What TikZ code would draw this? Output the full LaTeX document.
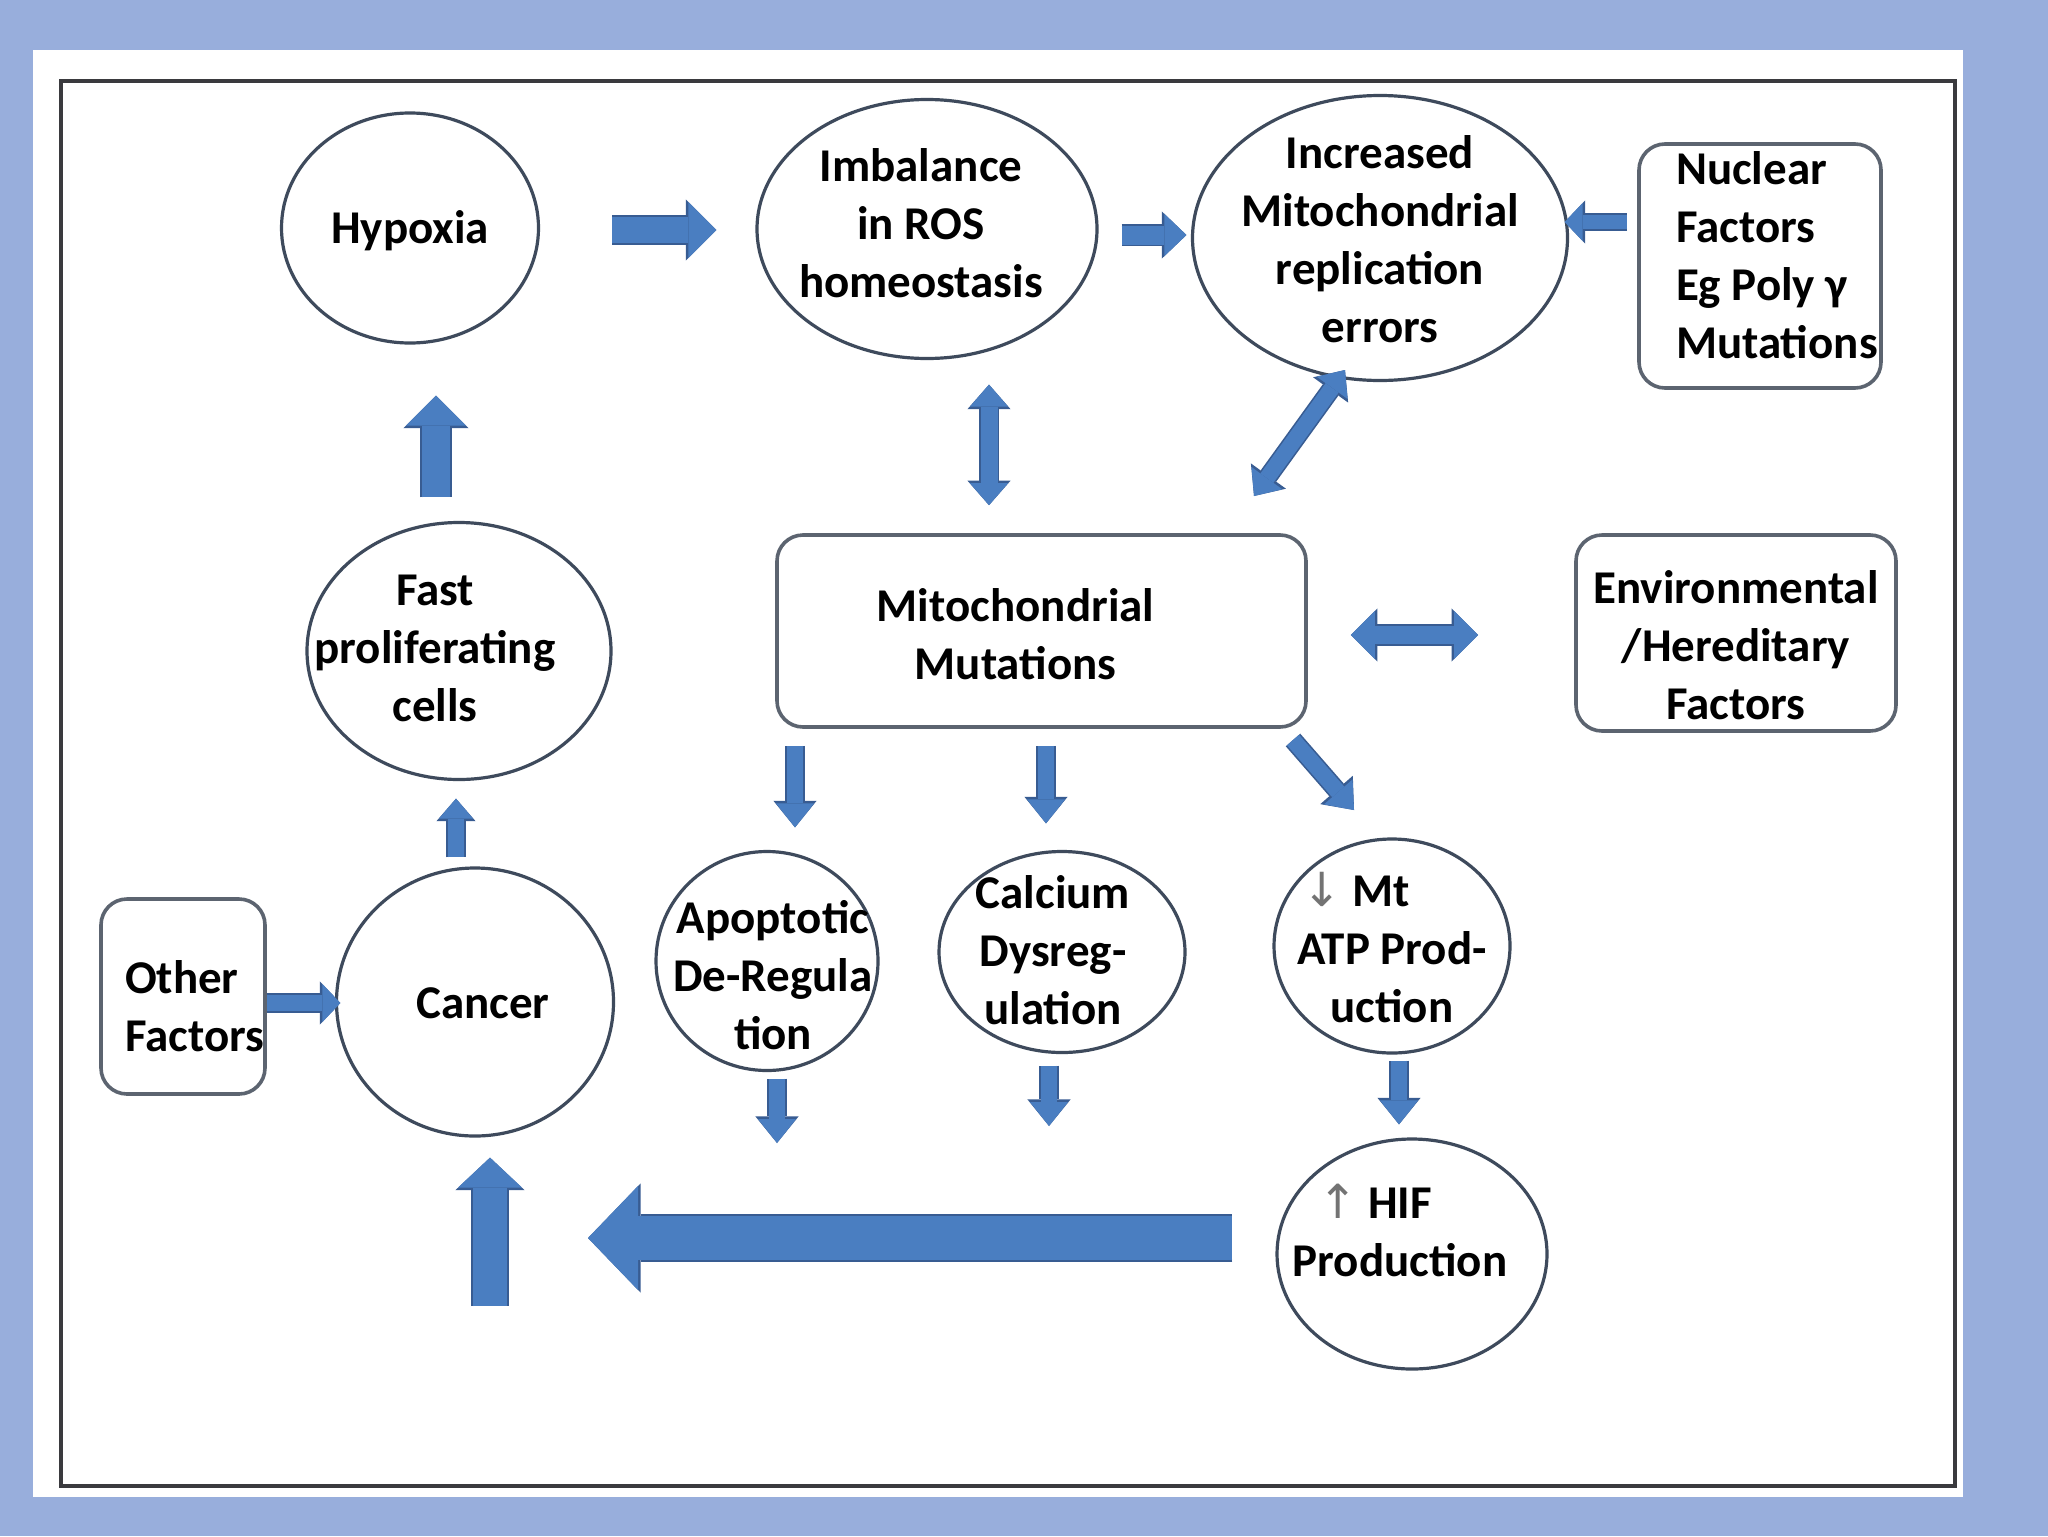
\documentclass[tikz,border=0pt]{standalone}
\usepackage{fontspec}
\setmainfont{Carlito}
\newfontfamily\symf{DejaVu Sans}
\usetikzlibrary{shapes.geometric,arrows.meta}
\definecolor{bgblue}{RGB}{152,174,220}
\definecolor{ablue}{RGB}{74,126,193}
\definecolor{aedge}{RGB}{56,92,146}
\definecolor{eline}{RGB}{62,74,92}
\definecolor{bline}{RGB}{92,100,112}
\definecolor{fline}{RGB}{58,58,62}
\newcommand\fnt{\fontsize{23.5pt}{29pt}\selectfont\bfseries}
\newcommand\txt[3]{\smash{\kern#1\makebox[0pt]{\raisebox{#2}{\begin{tabular}{@{}c@{}}#3\end{tabular}}}\kern-#1}}
\newcommand\txtl[3]{\smash{\kern#1\makebox[0pt][l]{\raisebox{#2}{\begin{tabular}{@{}l@{}}#3\end{tabular}}}\kern-#1}}
\newcommand\dnar{{\symf\mdseries\textcolor{black!55}{↓}}}
\newcommand\upar{{\symf\mdseries\textcolor{black!55}{↑}}}
\tikzset{
  ell/.style={ellipse, draw=eline, line width=1.6pt, fill=white, inner sep=0pt, font=\fnt},
  rbox/.style={rectangle, rounded corners=13pt, draw=bline, line width=1.8pt, fill=white, inner sep=0pt, font=\fnt},
  sarr/.code n args={3}{%
    \pgfmathsetlengthmacro\oS{#1+1.6pt}\pgfmathsetlengthmacro\oH{#2+2.6pt}\pgfmathsetlengthmacro\oL{#3+1.3pt}%
    \tikzset{draw=ablue, line width=#1, -{Triangle[length=#3,width=#2,line width=0pt]},
      preaction={draw=aedge, line width=\oS, -{Triangle[length=\oL,width=\oH,line width=0pt]}}}},
  darr/.code n args={3}{%
    \pgfmathsetlengthmacro\oS{#1+1.6pt}\pgfmathsetlengthmacro\oH{#2+2.6pt}\pgfmathsetlengthmacro\oL{#3+1.3pt}%
    \tikzset{draw=ablue, line width=#1, {Triangle[length=#3,width=#2,line width=0pt]}-{Triangle[length=#3,width=#2,line width=0pt]},
      preaction={draw=aedge, line width=\oS, {Triangle[length=\oL,width=\oH,line width=0pt]}-{Triangle[length=\oL,width=\oH,line width=0pt]}}}},
}
\begin{document}
\begin{tikzpicture}[x=0.5pt,y=-0.5pt]
\useasboundingbox (0,0) rectangle (2048,1536);
\fill[bgblue] (0,0) rectangle (2048,1536);
\fill[white] (33,50) rectangle (1963,1497);
\draw[fline, line width=1.75pt] (61,81) rectangle (1955,1486);

% nodes
\node[ell, minimum width=128.5pt, minimum height=115pt] (hyp) at (410,228) {\txt{0pt}{-8.4pt}{Hypoxia}};
\node[ell, minimum width=170pt, minimum height=129.5pt] (ros) at (927,229) {\txt{-3pt}{-5.6pt}{Imbalance\\in ROS\\homeostasis}};
\node[ell, minimum width=187.5pt, minimum height=142.5pt] (inc) at (1380,238) {\txt{0pt}{-9.2pt}{Increased\\Mitochondrial\\replication\\errors}};
\node[rbox, minimum width=121pt, minimum height=122pt] (nuc) at (1760,266) {\txtl{-42pt}{-3.2pt}{Nuclear\\Factors\\Eg Poly γ\\Mutations}};
\node[rbox, minimum width=264.5pt, minimum height=96pt] (mut) at (1041.5,631) {\txt{-13pt}{-10pt}{Mitochondrial\\Mutations}};
\node[rbox, minimum width=160pt, minimum height=98pt] (env) at (1736,633) {\txt{0pt}{-14.5pt}{Environmental\\/Hereditary\\Factors}};
\node[ell, minimum width=152pt, minimum height=128.5pt] (fast) at (459,651) {\txt{-12pt}{-6.5pt}{Fast\\proliferating\\cells}};
\node[ell, minimum width=138.5pt, minimum height=134pt] (can) at (475,1002) {\txt{4pt}{-8.5pt}{Cancer}};
\node[rbox, minimum width=82pt, minimum height=97.5pt] (oth) at (183,996.5) {\txtl{-29pt}{-13.4pt}{Other\\Factors}};
\node[ell, minimum width=111pt, minimum height=109.5pt] (apo) at (767,961) {\txt{3pt}{-15.9pt}{Apoptotic\\De-Regula\\tion}};
\node[ell, minimum width=123pt, minimum height=100.5pt] (cal) at (1062,952) {\txt{-4.5pt}{-7.5pt}{Calcium\\Dysreg-\\ulation}};
\node[ell, minimum width=118pt, minimum height=107pt] (atp) at (1392,946) {\txt{0pt}{-9.5pt}{\dnar{} Mt\hspace*{36pt}\\ATP Prod-\\uction}};
\node[ell, minimum width=135pt, minimum height=115pt] (hif) at (1412,1254) {\txt{-6pt}{2.6pt}{\upar\ HIF\hspace*{25pt}\\Production}};

% free ends
\coordinate (a5s) at (1345,370);
\coordinate (a5e) at (1254,496);
\coordinate (a12s) at (1293,740);
\coordinate (a12e) at (1354,810);
\coordinate (a13e) at (777,1143);
\coordinate (a14e) at (1049,1126);
\coordinate (a16e) at (588,1238);
\coordinate (a17s) at (490,1306);

% connectors
\draw[sarr={13pt}{28pt}{14pt}, shorten <=36pt, shorten >=19.5pt] (hyp.east |- 0,230) -- (ros.west |- 0,230);
\draw[sarr={9.5pt}{21pt}{11pt}, shorten <=11.5pt, shorten >=2.25pt] (ros.east |- 0,235) -- (inc.west |- 0,235);
\draw[sarr={7pt}{19pt}{9pt}, shorten <=5pt, shorten >=-2.25pt] (nuc.west |- 0,222) -- (inc.east |- 0,222);
\draw[darr={8.5pt}{19pt}{11pt}, shorten <=12.25pt, shorten >=14pt] (ros.south -| 989,0) -- (mut.north -| 989,0);
\draw[darr={8pt}{19pt}{11pt}] (a5s) -- (a5e);
\draw[darr={9pt}{24pt}{12pt}, shorten <=21.5pt, shorten >=48pt] (mut.east |- 0,635) -- (env.west |- 0,635);
\draw[sarr={14pt}{30pt}{15pt}, shorten <=11.75pt, shorten >=25.5pt] (fast.north -| 436,0) -- (hyp.south -| 436,0);
\draw[sarr={8pt}{17pt}{10pt}, shorten <=4.5pt, shorten >=8.75pt] (can.north -| 456,0) -- (fast.south -| 456,0);
\draw[sarr={8pt}{19pt}{9pt}, shorten >=-2.75pt] (oth.east |- 0,1003) -- (can.west |- 0,1003);
\draw[sarr={8pt}{19pt}{12pt}, shorten <=8.5pt, shorten >=11.25pt] (mut.south -| 795,0) -- (apo.north -| 795,0);
\draw[sarr={8pt}{19pt}{12pt}, shorten <=8.5pt, shorten >=13.25pt] (mut.south -| 1046,0) -- (cal.north -| 1046,0);
\draw[sarr={8pt}{19pt}{12pt}] (a12s) -- (a12e);
\draw[sarr={8pt}{19pt}{12pt}, shorten <=3.25pt] (apo.south -| 777,0) -- (a13e);
\draw[sarr={8pt}{19pt}{12pt}, shorten <=5.75pt] (cal.south -| 1049,0) -- (a14e);
\draw[sarr={8pt}{19pt}{12pt}, shorten <=3pt, shorten >=6.5pt] (atp.south -| 1399,0) -- (hif.north -| 1399,0);
\draw[sarr={22pt}{52pt}{25pt}, shorten <=21.5pt] (hif.west |- 0,1238) -- (a16e);
\draw[sarr={17pt}{32pt}{15pt}, shorten >=10pt] (a17s) -- (can.south -| 490,0);
\end{tikzpicture}
\end{document}
